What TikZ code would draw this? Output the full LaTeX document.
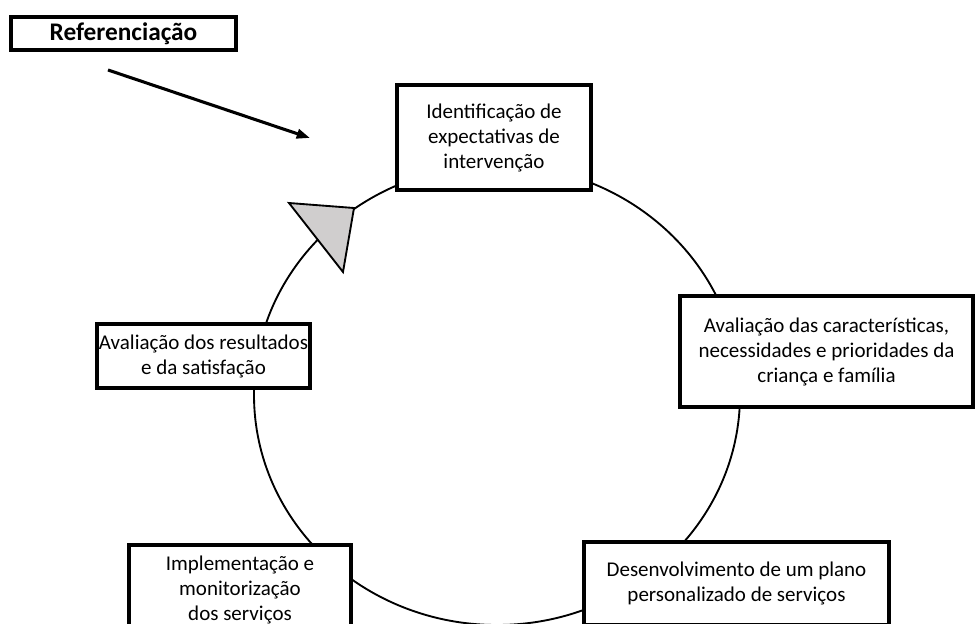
\documentclass[tikz,border=0pt]{standalone}
\usepackage{fontspec}
\setmainfont{Carlito}
\usepackage{tikz}
\usetikzlibrary{arrows.meta}

\begin{document}
\begin{tikzpicture}[x=0.75pt,y=-0.75pt,
  etapa/.style={draw, line width=2.6pt, fill=white, align=center, inner sep=0pt,
    font=\fontsize{15.75}{18.75}\selectfont},
  seta/.style={-{Triangle[length=10pt,width=7pt]}, line width=2.3pt},
  ]
\useasboundingbox (0,0) rectangle (976,624);
\clip (0,0) rectangle (976,624);
%\draw[help lines, color=gray!30, dashed] (0,0) grid (976,624);

% ciclo
\draw[line width=1.4pt] (497,395) ellipse [x radius=243, y radius=230];

\node[etapa, font=\fontsize{19}{22}\selectfont\bfseries,
  minimum width=168.75pt, minimum height=24.75pt] (ref) at (123.5,33.5) {Referenciação};

\node[etapa, minimum width=145.5pt, minimum height=78.75pt] (n1) at (494,137.5)
  {Identificação de\\expectativas de\\intervenção};

\node[etapa, minimum width=219.75pt, minimum height=83.25pt] (n2) at (826.5,351.5)
  {Avaliação das características,\\necessidades e prioridades da\\criança e família};

\node[etapa, minimum width=228.75pt, minimum height=62.25pt] (n3) at (736.5,583.5)
  {Desenvolvimento de um plano\\personalizado de serviços};

\node[etapa, minimum width=166.5pt, minimum height=67.5pt] (n4) at (240,590)
  {Implementação e\\monitorização\\dos serviços};

\node[etapa, minimum width=160pt, minimum height=48pt] (n5) at (203.5,356)
  {Avaliação dos resultados\\e da satisfação};

% seta do ciclo
\filldraw[fill={rgb,255:red,208;green,206;blue,206}, line width=1.4pt]
  (289,203) -- (354,208) -- (343,272) -- cycle;

\coordinate (ini) at (108,70);
\coordinate (fim) at (310,138);
\draw[seta] (ini) -- (fim);

\end{tikzpicture}
\end{document}
